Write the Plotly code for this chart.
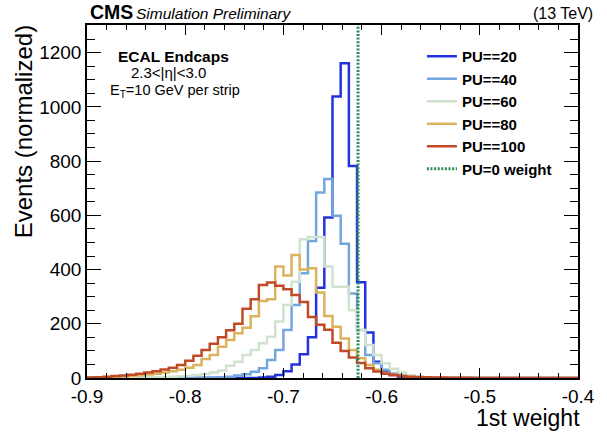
import plotly.graph_objects as go

# ---------------- data ----------------
BIN_LO, BIN_HI, N_BINS = -0.9, -0.4, 60
PU0_WEIGHT = -0.624
Y_MAX = 1302

pu_labels = ["PU==20", "PU==40", "PU==60", "PU==80", "PU==100"]
pu_colors = ["#2233dd", "#74a6de", "#cfe3cf", "#dbb25e", "#c04a26"]

pu20 = [0]*21 + [2, 5, 11, 25, 50, 88, 150, 333, 592, 1038, 1161, 782, 353, 168, 60,
                 25, 11, 5, 2, 1] + [0]*19
pu40 = [0, 0, 0, 0, 0, 0, 0, 0, 0, 0, 0, 0, 1, 1, 2,
        2, 3, 5, 9, 14, 23, 36, 66, 103, 177, 269, 386, 505, 684, 734,
        598, 495, 312, 177, 85, 54, 30, 17, 8, 4, 2, 1] + [0]*18
pu60 = [0, 0, 0, 1, 1, 1, 2, 2, 3, 4, 5, 6, 8, 11, 15,
        20, 28, 45, 60, 85, 103, 128, 152, 208, 269, 355, 512, 520, 520, 411,
        337, 337, 250, 177, 122, 85, 54, 34, 20, 10, 5, 3, 1] + [0]*17
pu80 = [1, 2, 3, 4, 6, 8, 10, 13, 16, 20, 25, 30, 38, 48, 70,
        85, 115, 140, 165, 185, 228, 284, 290, 411, 378, 454, 400, 405, 315, 229,
        189, 146, 103, 73, 48, 30, 18, 11, 7, 4, 3, 2, 1] + [0]*17
pu100 = [2, 3, 5, 7, 9, 12, 16, 20, 25, 31, 38, 48, 64, 82, 103,
         126, 150, 176, 200, 255, 290, 343, 352, 340, 327, 306, 280, 225, 196, 178,
         130, 100, 76, 55, 36, 24, 16, 11, 7, 5, 4, 3, 2, 2, 1,
         1, 1] + [0]*13

series = [pu20, pu40, pu60, pu80, pu100]

x_tick_vals = [-0.9, -0.8, -0.7, -0.6, -0.5, -0.4]
x_tick_text = ["-0.9", "-0.8", "-0.7", "-0.6", "-0.5", "-0.4"]
y_tick_vals = [0, 200, 400, 600, 800, 1000, 1200]

# ---------------- figure ----------------
FONT = "Liberation Sans, Arial, Helvetica, sans-serif"
edges = [BIN_LO + k * (BIN_HI - BIN_LO) / N_BINS for k in range(N_BINS + 1)]

fig = go.Figure()
for lab, col, vals in zip(pu_labels, pu_colors, series):
    xs = [edges[0]] + edges[:N_BINS] + [edges[N_BINS]]
    ys = [0] + list(vals) + [0]
    fig.add_trace(go.Scatter(x=xs, y=ys, mode="lines", name=lab,
                             line=dict(color=col, width=2.5, shape="hv")))

fig.add_trace(go.Scatter(x=[PU0_WEIGHT, PU0_WEIGHT], y=[0, Y_MAX], mode="lines",
                         name="PU=0 weight",
                         line=dict(color="#2a8c5a", width=3, dash="2px,1.6px")))

axis_common = dict(showline=True, linecolor="black", linewidth=1.5, mirror="allticks",
                   ticks="inside", tickcolor="black", showgrid=False, zeroline=False,
                   tickfont=dict(family=FONT, size=19, color="black"))

fig.update_xaxes(range=[BIN_LO, BIN_HI], tickvals=x_tick_vals, ticktext=x_tick_text,
                 ticklen=10, tickwidth=1,
                 minor=dict(ticks="inside", dtick=0.02, ticklen=5, tickcolor="black", showgrid=False),
                 **axis_common)
fig.update_yaxes(range=[0, Y_MAX], tickvals=y_tick_vals, ticklen=14, tickwidth=1,
                 minor=dict(ticks="inside", dtick=50, ticklen=8, tickcolor="black", showgrid=False),
                 **axis_common)

annots = [
    dict(text="<b>CMS</b>", x=88, y=12, size=19.5, xanchor="left"),
    dict(text="<i>Simulation Preliminary</i>", x=135, y=13, size=15.5, xanchor="left"),
    dict(text="(13 TeV)", x=601, y=13, size=16, xanchor="right"),
    dict(text="<b>ECAL Endcaps</b>", x=175, y=56, size=15.5, xanchor="center"),
    dict(text="2.3<|η|<3.0", x=170, y=73, size=15, xanchor="center"),
    dict(text="E<sub>T</sub>=10 GeV per strip", x=176, y=91, size=14.5, xanchor="center"),
    dict(text="1st weight", x=588, y=418, size=23, xanchor="right"),
]
L, R, T, B = 87, 584, 25, 378
for a in annots:
    fig.add_annotation(text=a["text"], xref="paper", yref="paper",
                       x=(a["x"] - L) / (R - L), y=(B - a["y"]) / (B - T),
                       xanchor=a["xanchor"], yanchor="middle", showarrow=False,
                       font=dict(family=FONT, size=a["size"], color="black"))
fig.add_annotation(text="Events (normalized)", xref="paper", yref="paper",
                   x=(23 - L) / (R - L), y=(B - 23) / (B - T), xanchor="center", yanchor="top",
                   textangle=-90, showarrow=False,
                   font=dict(family=FONT, size=24, color="black"))

fig.update_layout(
    width=607, height=433,
    margin=dict(l=L, r=607 - R, t=T, b=433 - B, pad=0),
    paper_bgcolor="white", plot_bgcolor="white",
    showlegend=True,
    legend=dict(x=(426 - L) / (R - L), y=(B - 40) / (B - T), xanchor="left", yanchor="top",
                bgcolor="rgba(0,0,0,0)", borderwidth=0, tracegroupgap=0,
                font=dict(family=FONT, size=15, color="black", weight="bold")),
)

fig.write_html("out.html")
